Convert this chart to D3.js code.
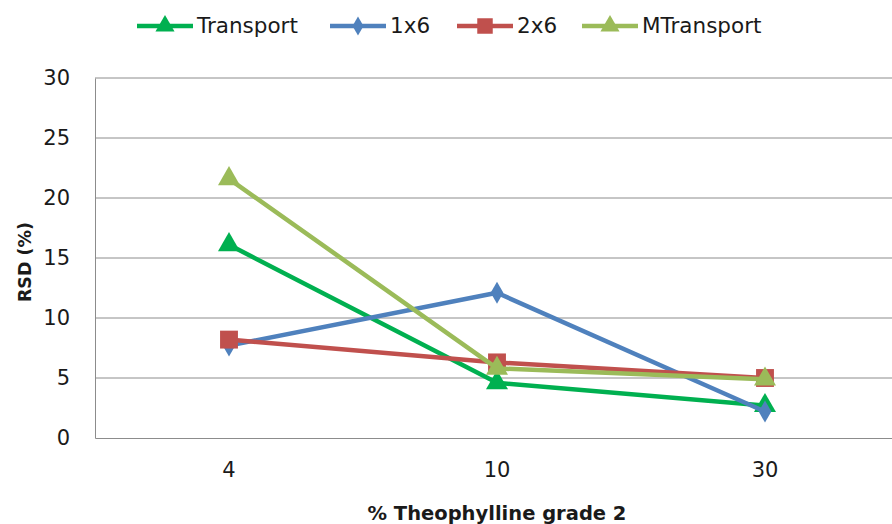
<!DOCTYPE html>
<html>
<head>
<meta charset="utf-8">
<script src="https://cdn.jsdelivr.net/npm/d3@7"></script>
<style>
  body { margin: 0; background: #fff; }
  text { font-family: "DejaVu Sans", Verdana, sans-serif; fill: #1a1a1a; }
</style>
</head>
<body>
<svg id="chart"></svg>
<script>
  // data
  const categories = ["4", "10", "30"];
  const transport  = [16.1, 4.6, 2.7];
  const oneBySix   = [7.7, 12.1, 2.2];
  const twoBySix   = [8.2, 6.3, 5.0];
  const mTransport = [21.6, 5.8, 4.9];
  const yTicks = [0, 5, 10, 15, 20, 25, 30];

  const series = [
    { name: "Transport",  values: transport,  color: "#00b050", symbol: d3.symbolTriangle, size: 210 },
    { name: "1x6",        values: oneBySix,   color: "#4f81bd", symbol: d3.symbolDiamond,  size: 140 },
    { name: "2x6",        values: twoBySix,   color: "#c0504d", symbol: d3.symbolSquare,   size: 320 },
    { name: "MTransport", values: mTransport, color: "#9bbb59", symbol: d3.symbolTriangle, size: 210 },
  ];

  const W = 892, H = 524;
  const mg = { top: 78, left: 95, bottom: 86 };
  const plotW = 804; // runs past the right edge like the original

  const svg = d3.select("#chart").attr("width", W).attr("height", H);

  const x = d3.scaleBand().domain(categories).range([mg.left, mg.left + plotW]);
  const y = d3.scaleLinear().domain([0, 30]).range([H - mg.bottom, mg.top]);

  // gridlines
  svg.append("g")
    .selectAll("line")
    .data(yTicks.slice(1))
    .join("line")
    .attr("x1", mg.left).attr("x2", mg.left + plotW)
    .attr("y1", (d) => y(d)).attr("y2", (d) => y(d))
    .attr("stroke", "#8c8c8c").attr("stroke-width", 1);

  // axes
  const yAxis = svg.append("g")
    .attr("transform", `translate(${mg.left},0)`)
    .call(d3.axisLeft(y).tickValues(yTicks).tickSize(0).tickPadding(25));
  yAxis.select(".domain").attr("stroke", "#8c8c8c");
  yAxis.selectAll("text").attr("font-size", 21).attr("font-family", "DejaVu Sans").attr("fill", "#1a1a1a");

  const xAxis = svg.append("g")
    .attr("transform", `translate(0,${y(0)})`)
    .call(d3.axisBottom(x).tickSize(0).tickPadding(24));
  xAxis.select(".domain").attr("stroke", "#8c8c8c");
  xAxis.selectAll("text").attr("font-size", 21).attr("font-family", "DejaVu Sans").attr("fill", "#1a1a1a");

  // axis titles
  svg.append("text")
    .attr("transform", `translate(31,${262}) rotate(-90)`)
    .attr("text-anchor", "middle")
    .attr("font-size", 17.5).attr("font-weight", "bold")
    .text("RSD (%)");

  svg.append("text")
    .attr("x", 497).attr("y", 520)
    .attr("text-anchor", "middle")
    .attr("font-size", 19.5).attr("font-weight", "bold")
    .text("% Theophylline  grade 2");

  const line = d3.line()
    .x((d, i) => x(categories[i]) + x.bandwidth() / 2)
    .y((d) => y(d));

  series.forEach((s) => {
    svg.append("path")
      .attr("d", line(s.values))
      .attr("fill", "none")
      .attr("stroke", s.color)
      .attr("stroke-width", 4.5)
      .attr("stroke-linejoin", "round");

    svg.append("g")
      .selectAll("path")
      .data(s.values)
      .join("path")
      .attr("transform", (d, i) => `translate(${x(categories[i]) + x.bandwidth() / 2},${y(d)})`)
      .attr("d", d3.symbol(s.symbol, s.size))
      .attr("fill", s.color);
  });

  // legend
  const legendX = [137, 330, 457, 582];
  const lg = svg.append("g").attr("transform", "translate(0,26)");
  series.forEach((s, i) => {
    const g = lg.append("g").attr("transform", `translate(${legendX[i]},0)`);
    g.append("line")
      .attr("x1", 0).attr("x2", 56).attr("y1", 0).attr("y2", 0)
      .attr("stroke", s.color).attr("stroke-width", 4.5);
    g.append("path")
      .attr("transform", "translate(28,0)")
      .attr("d", d3.symbol(s.symbol, s.size * 0.75))
      .attr("fill", s.color);
    g.append("text")
      .attr("x", 60).attr("y", 7)
      .attr("font-size", 21.5)
      .text(s.name);
  });
</script>
</body>
</html>
